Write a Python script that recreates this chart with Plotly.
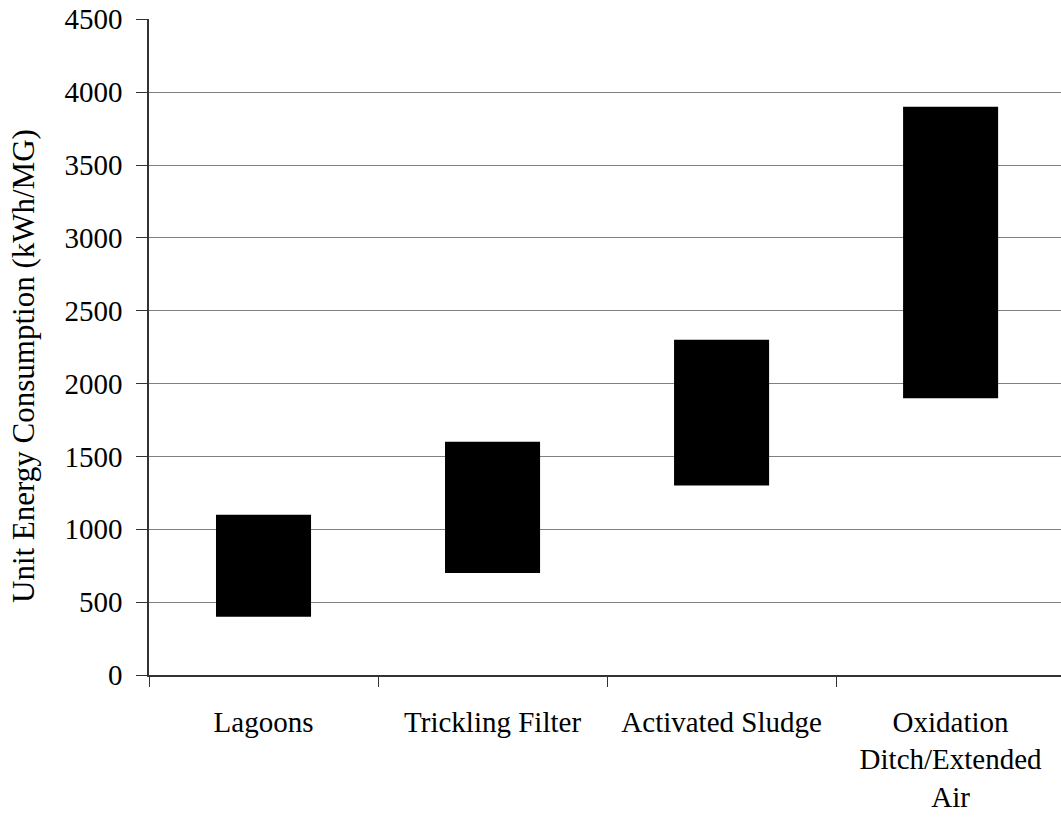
import plotly.graph_objects as go

categories = ["Lagoons", "Trickling Filter", "Activated Sludge", "Oxidation<br>Ditch/Extended<br>Air"]
low_values = [400, 700, 1300, 1900]
high_values = [1100, 1600, 2300, 3900]
y_title = "Unit Energy Consumption (kWh/MG)"

heights = [h - l for h, l in zip(high_values, low_values)]

FONT = "Liberation Serif, Times New Roman, serif"

fig = go.Figure()
fig.add_trace(go.Bar(
    x=categories,
    y=heights,
    base=low_values,
    width=0.415,
    marker=dict(color="black", line=dict(width=0)),
    hoverinfo="skip",
))

fig.add_annotation(
    text=y_title,
    xref="paper", yref="paper",
    x=0, y=0.5,
    xanchor="center", yanchor="middle",
    xshift=-126, yshift=-19,
    textangle=-90,
    showarrow=False,
    font=dict(family=FONT, size=31, color="black"),
)

fig.update_layout(
    width=1061,
    height=822,
    margin=dict(l=149, r=0, t=19, b=147, autoexpand=False),
    paper_bgcolor="white",
    plot_bgcolor="white",
    showlegend=False,
    font=dict(family=FONT, size=29, color="black"),
    xaxis=dict(
        type="category",
        range=[-0.5, 3.482],
        showline=True,
        linecolor="#333333",
        linewidth=1.5,
        ticks="outside",
        tickson="boundaries",
        ticklen=10,
        tickcolor="#333333",
        showgrid=False,
        ticklabelstandoff=20,
        tickfont=dict(family=FONT, size=29, color="black"),
    ),
    yaxis=dict(
        range=[0, 4502],
        tickvals=[0, 500, 1000, 1500, 2000, 2500, 3000, 3500, 4000, 4500],
        showline=True,
        linecolor="#333333",
        linewidth=1.5,
        ticks="outside",
        ticklen=11,
        tickcolor="#333333",
        showgrid=True,
        gridcolor="#808080",
        gridwidth=1,
        zeroline=False,
        ticklabelstandoff=8,
        ticklabeloverflow="allow",
        tickfont=dict(family=FONT, size=29, color="black"),
    ),
)

fig.write_html(
    "out.html",
    config={"displayModeBar": False},
    post_script="document.body.style.margin='0';",
)
